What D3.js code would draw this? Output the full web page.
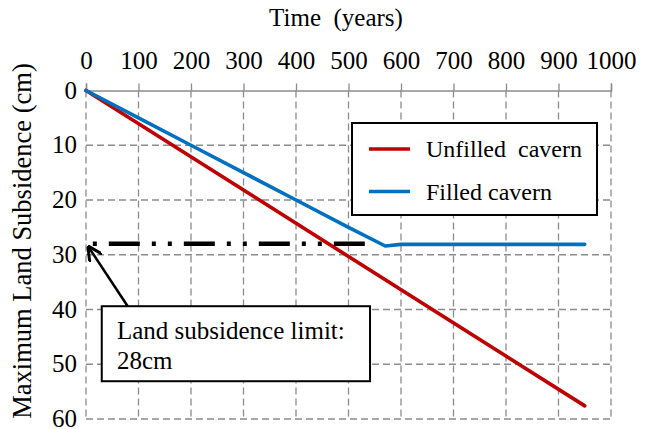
<!DOCTYPE html>
<html><head><meta charset="utf-8">
<script src="https://cdn.jsdelivr.net/npm/d3@7/dist/d3.min.js"></script>
<style>
html,body{margin:0;padding:0;background:#fff;}
text{font-family:"Liberation Serif","Times New Roman",serif;fill:#000;}
</style></head>
<body><svg id="chart" width="648" height="429"></svg>
<script>
// ---- data ----
const xTicks = [0,100,200,300,400,500,600,700,800,900,1000];
const yTicks = [0,10,20,30,40,50,60];
const unfilledYears = [0, 950];
const unfilledValues = [0, 57.6];
const filledYears = [0, 100, 200, 300, 400, 500, 570, 600, 950];
const filledValues = [0, 5, 10, 15, 20, 25, 28.4, 28.1, 28.1];
const limitYears = [13, 533];
const limitValue = 28;
const seriesNames = ["Unfilled  cavern", "Filled cavern"];
const seriesColors = ["#C00000", "#0070C0"];

const svg = d3.select("#chart");
const x = d3.scaleLinear().domain([0,1000]).range([86,611]);
const y = d3.scaleLinear().domain([0,60]).range([90.5,419]);
const gridColor = "#8c8c8c";

// grid: vertical dashed
svg.append("g").selectAll("line").data(xTicks).join("line")
  .attr("x1", d=>x(d)).attr("x2", d=>x(d))
  .attr("y1", y(0)).attr("y2", y(60))
  .attr("stroke", gridColor).attr("stroke-width",1.3).attr("stroke-dasharray","7,4");
// grid: horizontal dashed (excluding 0)
svg.append("g").selectAll("line").data(yTicks.filter(d=>d>0)).join("line")
  .attr("x1", x(0)).attr("x2", x(1000))
  .attr("y1", d=>y(d)).attr("y2", d=>y(d))
  .attr("stroke", gridColor).attr("stroke-width",1.3).attr("stroke-dasharray","7,4");

// top axis
const xAxis = svg.append("g").attr("transform",`translate(0,${y(0)})`)
  .call(d3.axisTop(x).tickValues(xTicks).tickSize(7).tickPadding(15).tickFormat(d3.format("d")));
xAxis.select(".domain").attr("stroke", gridColor).attr("stroke-width",1.5);
xAxis.selectAll(".tick line").attr("stroke", gridColor).attr("stroke-width",1.3);
xAxis.selectAll("text").style("font-size","25px").attr("fill","#000");

// left axis labels
const yAxis = svg.append("g").attr("transform",`translate(${x(0)},0)`)
  .call(d3.axisLeft(y).tickValues(yTicks).tickSize(0).tickPadding(9));
yAxis.select(".domain").remove();
yAxis.selectAll("text").style("font-size","25px").attr("fill","#000").attr("dy","0.3em");

// titles
svg.append("text").attr("x",336).attr("y",26).attr("text-anchor","middle")
  .style("font-size","25px").style("white-space","pre").text("Time  (years)");
svg.append("text").attr("transform","translate(31,241) rotate(-90)")
  .attr("text-anchor","middle").style("font-size","26.5px")
  .text("Maximum Land Subsidence (cm)");

// limit line
const line = d3.line().x(d=>x(d[0])).y(d=>y(d[1]));
svg.append("path").datum(limitYears.map(t=>[t,limitValue]))
  .attr("d", line).attr("fill","none").attr("stroke","#000").attr("stroke-width",4.5)
  .attr("stroke-dasharray","31,12,4,12,4,12").attr("stroke-dashoffset",59);

// series
const series = [
  {name: seriesNames[0], color: seriesColors[0], pts: unfilledYears.map((t,i)=>[t,unfilledValues[i]])},
  {name: seriesNames[1], color: seriesColors[1], pts: filledYears.map((t,i)=>[t,filledValues[i]])}
];
svg.append("g").selectAll("path").data(series).join("path")
  .attr("d", d=>line(d.pts)).attr("fill","none")
  .attr("stroke", d=>d.color).attr("stroke-width",3.6)
  .attr("stroke-linejoin","round").attr("stroke-linecap","round");

// legend
const lg = svg.append("g");
lg.append("rect").attr("x",352).attr("y",123).attr("width",245).attr("height",92)
  .attr("fill","#fff").attr("stroke","#000").attr("stroke-width",2);
series.forEach((s,i)=>{
  const yy = 149 + i*42.5;
  lg.append("line").attr("x1",369).attr("x2",410).attr("y1",yy).attr("y2",yy)
    .attr("stroke",s.color).attr("stroke-width",3.6);
  lg.append("text").attr("x",426).attr("y",yy+8).style("font-size","24px")
    .style("white-space","pre").text(s.name);
});

// annotation
const defs = svg.append("defs");
defs.append("marker").attr("id","arr").attr("viewBox","0 0 10 10").attr("refX",9).attr("refY",5)
  .attr("markerWidth",6).attr("markerHeight",6).attr("markerUnits","strokeWidth").attr("orient","auto")
  .append("path").attr("d","M0,0 L10,5 L0,10").attr("fill","none").attr("stroke","#000").attr("stroke-width",2);
svg.append("line").attr("x1",x(80)).attr("y1",y(39.5)).attr("x2",x(5)).attr("y2",y(28.6))
  .attr("stroke","#000").attr("stroke-width",2.5).attr("marker-end","url(#arr)");
svg.append("rect").attr("x",x(30)).attr("y",y(39.4)).attr("width",x(541)-x(30)).attr("height",y(53.1)-y(39.4))
  .attr("fill","#fff").attr("stroke","#000").attr("stroke-width",2);
svg.append("text").attr("x",117).attr("y",339).style("font-size","25px").text("Land subsidence limit:");
svg.append("text").attr("x",117).attr("y",369).style("font-size","25px").text("28cm");
</script></body></html>
